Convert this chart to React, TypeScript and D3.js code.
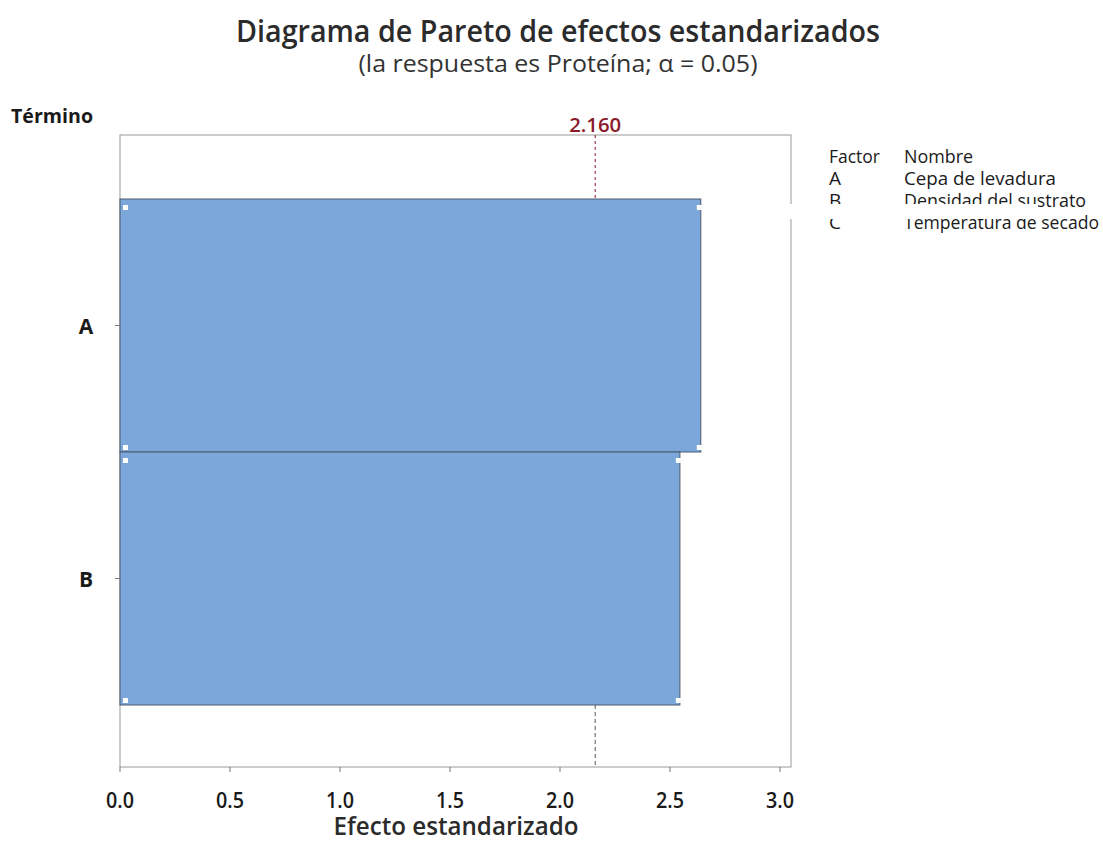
import React from "react";
import * as d3 from "d3";

const terms = ["A", "B"];
const effects = [2.64, 2.545];
const xTicks = [0, 0.5, 1.0, 1.5, 2.0, 2.5, 3.0];
const refValue = 2.16;
const legendFactors = ["A", "B", "C"];
const legendNames = ["Cepa de levadura", "Densidad del sustrato", "Temperatura de secado"];

const W = 1103;
const H = 842;
const FONT = "'Open Sans', 'Noto Sans', sans-serif";

export default function App() {
  const left = 120, right = 791, top = 135, bottom = 767;
  const x = d3.scaleLinear().domain([0, 3.0]).range([left, left + 660]);
  const y = d3.scaleBand().domain(terms).range([top + 64, bottom - 62]).paddingInner(0);
  const bw = y.bandwidth();

  return (
    <svg width={W} height={H} style={{ position: "absolute", left: 0, top: 0, background: "#fff" }}>
      <rect x={0} y={0} width={W} height={H} fill="#fff" />
      <text x={558} y={42} textAnchor="middle" fontFamily={FONT} fontSize={31} fontWeight={600} fill="#2b2b2b" textLength={644} lengthAdjust="spacingAndGlyphs">
        Diagrama de Pareto de efectos estandarizados
      </text>
      <text x={558} y={72} textAnchor="middle" fontFamily={FONT} fontSize={24} fill="#333" textLength={399} lengthAdjust="spacingAndGlyphs">
        (la respuesta es Proteína; α = 0.05)
      </text>
      <text x={11} y={123} fontFamily={FONT} fontSize={20} fontWeight={700} fill="#1a1a1a" textLength={82} lengthAdjust="spacingAndGlyphs">Término</text>

      {/* frame */}
      <rect x={left} y={top} width={right - left} height={bottom - top} fill="none" stroke="#9a9a9a" strokeWidth={1} />

      {/* bars */}
      {terms.map((t, i) => (
        <g key={t}>
          <rect x={x(0)} y={y(t)!} width={x(effects[i]) - x(0)} height={bw} fill="#7BA7DA" stroke="#4a5a6e" strokeWidth={1} />
          <rect x={x(0) + 3} y={y(t)! + 6} width={5} height={5} fill="#fff" />
          <rect x={x(effects[i]) - 4} y={y(t)! + 6} width={5} height={5} fill="#fff" />
          <rect x={x(0) + 3} y={y(t)! + bw - 7} width={5} height={5} fill="#fff" />
          <rect x={x(effects[i]) - 4} y={y(t)! + bw - 7} width={5} height={5} fill="#fff" />
        </g>
      ))}

      {/* reference line */}
      <line x1={x(refValue)} x2={x(refValue)} y1={top} y2={y("A")!} stroke="#8B1A2B" strokeWidth={1} strokeDasharray="3,3" />
      <line x1={x(refValue)} x2={x(refValue)} y1={y("B")! + bw} y2={bottom} stroke="#555" strokeWidth={1} strokeDasharray="4,3" />
      <text x={x(refValue)} y={132} textAnchor="middle" fontFamily={FONT} fontSize={20} fontWeight={600} fill="#8B1A2B" textLength={52} lengthAdjust="spacingAndGlyphs">2.160</text>

      {/* y ticks and labels */}
      {terms.map((t) => (
        <g key={"yl" + t}>
          <line x1={left - 5} x2={left} y1={y(t)! + bw / 2} y2={y(t)! + bw / 2} stroke="#777" />
          <text x={86} y={y(t)! + bw / 2 + 8} textAnchor="middle" fontFamily={FONT} fontSize={21} fontWeight={700} fill="#1a1a1a">{t}</text>
        </g>
      ))}

      {/* x ticks */}
      {xTicks.map((v) => (
        <g key={"xt" + v}>
          <line x1={x(v)} x2={x(v)} y1={bottom} y2={bottom + 5} stroke="#777" />
          <text x={x(v)} y={808} textAnchor="middle" fontFamily={FONT} fontSize={22} fontWeight={600} fill="#1a1a1a" textLength={28} lengthAdjust="spacingAndGlyphs">{d3.format(".1f")(v)}</text>
        </g>
      ))}
      <text x={456} y={835} textAnchor="middle" fontFamily={FONT} fontSize={26} fontWeight={600} fill="#2b2b2b" textLength={245} lengthAdjust="spacingAndGlyphs">Efecto estandarizado</text>

      {/* legend */}
      <text x={829} y={163} fontFamily={FONT} fontSize={19} fontWeight={500} fill="#1a1a1a" textLength={51} lengthAdjust="spacingAndGlyphs">Factor</text>
      <text x={904} y={163} fontFamily={FONT} fontSize={19} fontWeight={500} fill="#1a1a1a" textLength={69} lengthAdjust="spacingAndGlyphs">Nombre</text>
      {legendFactors.map((f, i) => (
        <g key={"lg" + f}>
          <text x={829} y={185 + i * 22} fontFamily={FONT} fontSize={19} fontWeight={500} fill="#1a1a1a">{f}</text>
          <text x={904} y={185 + i * 22} fontFamily={FONT} fontSize={19} fontWeight={500} fill="#1a1a1a" textLength={[152, 182, 195][i]} lengthAdjust="spacingAndGlyphs">{legendNames[i]}</text>
        </g>
      ))}
      <rect x={784} y={204} width={254} height={15} fill="#fff" />
    </svg>
  );
}
